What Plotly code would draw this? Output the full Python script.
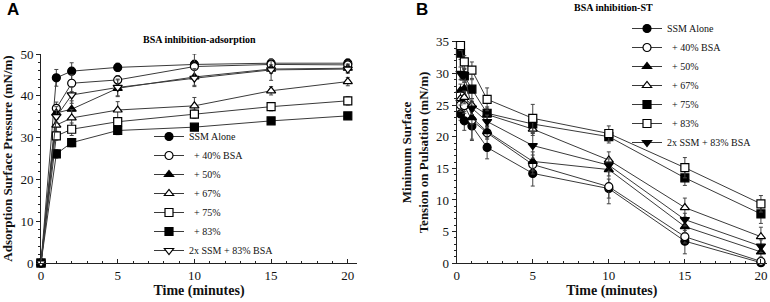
import plotly.graph_objects as go

# ---------------- Data ----------------
series_names = ["SSM Alone", "\u00a0\u00a0+ 40% BSA", "\u00a0\u00a0+ 50%", "\u00a0\u00a0+ 67%",
                "\u00a0\u00a0+ 75%", "\u00a0\u00a0+ 83%", "2x SSM + 83% BSA"]

# Panel A: adsorption surface pressure (mN/m)
time_a = [0, 1, 2, 5, 10, 15, 20]
a_ssm = [0, 44.3, 45.9, 46.8, 47.5, 47.8, 47.8]
a_40 = [0, 37.0, 43.0, 43.8, 47.0, 47.5, 47.4]
a_50 = [0, 35.9, 36.8, 41.8, 44.5, 46.4, 46.6]
a_67 = [0, 33.0, 34.7, 36.6, 37.6, 41.2, 43.4]
a_75 = [0, 30.4, 32.0, 33.8, 35.6, 37.4, 38.8]
a_83 = [0, 26.1, 28.8, 31.7, 32.5, 34.0, 35.2]
a_2x = [0, 35.0, 40.2, 42.0, 44.2, 46.2, 46.4]
a_err_ssm = [0, 2.0, 2.0, 1.0, 1.0, 1.0, 1.0]
a_err_40 = [0, 1.5, 2.0, 1.0, 3.0, 1.0, 1.0]
a_err_50 = [0, 1.5, 2.0, 2.0, 2.0, 1.0, 1.0]
a_err_67 = [0, 1.5, 2.0, 2.0, 2.0, 1.0, 1.0]
a_err_75 = [0, 1.0, 1.5, 1.0, 1.0, 1.0, 1.0]
a_err_83 = [0, 1.0, 1.0, 1.0, 0.5, 0.5, 0.8]
a_err_2x = [0, 1.5, 2.0, 2.0, 2.0, 2.5, 1.0]

# Panel B: minimum surface tension on pulsation (mN/m)
time_b = [0.25, 0.5, 1, 2, 5, 10, 15, 20]
b_ssm = [23.6, 22.5, 21.7, 18.3, 14.2, 11.8, 3.5, 0.1]
b_40 = [25.0, 24.9, 22.6, 20.6, 15.6, 12.1, 4.2, 0.3]
b_50 = [27.3, 27.6, 23.0, 20.8, 16.1, 14.8, 5.8, 1.8]
b_67 = [26.0, 26.2, 25.0, 23.5, 21.2, 16.3, 8.8, 4.2]
b_75 = [33.2, 29.6, 27.5, 23.7, 22.0, 20.0, 13.5, 7.8]
b_83 = [34.4, 31.8, 30.5, 25.9, 22.9, 20.5, 15.1, 9.4]
b_2x = [30.0, 29.8, 24.5, 22.4, 18.6, 15.5, 6.9, 2.7]
b_err_ssm = [1.0, 1.5, 2.3, 1.8, 2.0, 1.5, 2.0, 0.5]
b_err_40 = [1.0, 1.2, 3.0, 1.0, 1.5, 2.7, 1.0, 0.5]
b_err_50 = [1.0, 1.0, 1.0, 1.0, 1.5, 1.0, 1.0, 0.8]
b_err_67 = [1.0, 1.0, 1.0, 1.0, 1.0, 1.3, 1.5, 1.5]
b_err_75 = [1.0, 1.0, 1.5, 1.0, 1.5, 1.0, 1.2, 1.5]
b_err_83 = [0.8, 1.0, 1.3, 1.8, 2.2, 1.2, 1.6, 1.3]
b_err_2x = [1.0, 1.0, 1.0, 1.0, 2.0, 1.0, 1.0, 1.0]

# marker styles: (symbol, fill)
styles_a = [("circle", "black"), ("circle", "white"), ("triangle-up", "black"),
            ("triangle-up", "white"), ("square", "white"), ("square", "black"),
            ("triangle-down", "white")]
styles_b = [("circle", "black"), ("circle", "white"), ("triangle-up", "black"),
            ("triangle-up", "white"), ("square", "black"), ("square", "white"),
            ("triangle-down", "black")]

vals_a = [a_ssm, a_40, a_50, a_67, a_75, a_83, a_2x]
errs_a = [a_err_ssm, a_err_40, a_err_50, a_err_67, a_err_75, a_err_83, a_err_2x]
vals_b = [b_ssm, b_40, b_50, b_67, b_75, b_83, b_2x]
errs_b = [b_err_ssm, b_err_40, b_err_50, b_err_67, b_err_75, b_err_83, b_err_2x]

SERIF = "Liberation Serif"
SANS = "Liberation Sans"
LINE = "#3a3a3a"

fig = go.Figure()

for name, y, e, (sym, fill) in zip(series_names, vals_a, errs_a, styles_a):
    fig.add_trace(go.Scatter(
        x=time_a, y=y, name=name, mode="lines+markers",
        line=dict(color=LINE, width=1),
        marker=dict(symbol=sym, size=8, color=fill, line=dict(color="black", width=1.2)),
        error_y=dict(type="data", array=e, visible=True, color="#444", thickness=1, width=2),
        xaxis="x", yaxis="y", legend="legend", cliponaxis=False,
    ))

for name, y, e, (sym, fill) in zip(series_names, vals_b, errs_b, styles_b):
    fig.add_trace(go.Scatter(
        x=time_b, y=y, name=name, mode="lines+markers",
        line=dict(color=LINE, width=1),
        marker=dict(symbol=sym, size=8, color=fill, line=dict(color="black", width=1.2)),
        error_y=dict(type="data", array=e, visible=True, color="#444", thickness=1, width=2),
        xaxis="x2", yaxis="y2", legend="legend2", cliponaxis=False,
    ))

W, H = 770, 302

def px_x(p):
    return p / W

def px_y(p):
    return 1 - p / H

axis_common = dict(showgrid=False, zeroline=False, showline=True, linecolor="#222",
                   linewidth=1, tickcolor="#222", ticklen=4, automargin=False,
                   tickfont=dict(family=SERIF, size=13, color="#111"))

def label(text, x, y, family, size):
    return dict(text=text, x=px_x(x), y=px_y(y), xref="paper", yref="paper",
                xanchor="center", yanchor="middle", showarrow=False,
                font=dict(family=family, size=size, color="black"))

fig.update_layout(
    width=W, height=H,
    margin=dict(l=0, r=0, t=0, b=0, autoexpand=False),
    paper_bgcolor="white", plot_bgcolor="white",
    font=dict(family=SERIF, color="#111"),
    xaxis=dict(**axis_common, domain=[px_x(41), px_x(357)], range=[0, 20.6], anchor="y",
               tickvals=[0, 5, 10, 15, 20], ticks="inside",
               minor=dict(dtick=1, ticklen=2, ticks="inside", tickcolor="#222"),
               title=dict(text="<b>Time (minutes)</b>", font=dict(family=SERIF, size=14), standoff=2)),
    yaxis=dict(**axis_common, domain=[px_y(263), px_y(54)], range=[0, 50], anchor="x",
               tickvals=[0, 10, 20, 30, 40, 50], ticks="outside",
               minor=dict(dtick=2, ticklen=2, ticks="outside", tickcolor="#222"),
               title=dict(text="<b>Adsorption Surface Pressure (mN/m)</b>",
                          font=dict(family=SERIF, size=13), standoff=8)),
    xaxis2=dict(**axis_common, domain=[px_x(456.7), px_x(767)], range=[0, 20.4], anchor="y2",
                tickvals=[0, 5, 10, 15, 20], ticks="inside",
                minor=dict(dtick=1, ticklen=2, ticks="inside", tickcolor="#222"),
                title=dict(text="<b>Time (minutes)</b>", font=dict(family=SERIF, size=14), standoff=2)),
    yaxis2=dict(**axis_common, domain=[px_y(263.3), px_y(41.7)], range=[0, 35], anchor="x2",
                tickvals=[0, 5, 10, 15, 20, 25, 30, 35], ticks="outside",
                minor=dict(dtick=1, ticklen=2, ticks="outside", tickcolor="#222"),
                title=dict(text="<b>Minimum Surface<br>Tension on Pulsation (mN/m)</b>",
                           font=dict(family=SERIF, size=13), standoff=4)),
    legend=dict(x=px_x(149), y=px_y(122), xanchor="left", yanchor="top",
                bgcolor="rgba(0,0,0,0)", font=dict(family=SERIF, size=10, color="#111"),
                tracegroupgap=0, itemwidth=30),
    legend2=dict(x=px_x(627), y=px_y(14), xanchor="left", yanchor="top",
                 bgcolor="rgba(0,0,0,0)", font=dict(family=SERIF, size=10, color="#111"),
                 tracegroupgap=0, itemwidth=30),
    annotations=[
        label("<b>A</b>", 13, 9, SANS, 17),
        label("<b>B</b>", 421.5, 9, SANS, 17),
        label("<b>BSA inhibition-adsorption</b>", 199.5, 39.5, SERIF, 10),
        label("<b>BSA inhibition-ST</b>", 613, 7.5, SERIF, 10),
    ],
)

fig.write_html("out.html", config={"displayModeBar": False},
               post_script="document.body.style.margin='0px';")
